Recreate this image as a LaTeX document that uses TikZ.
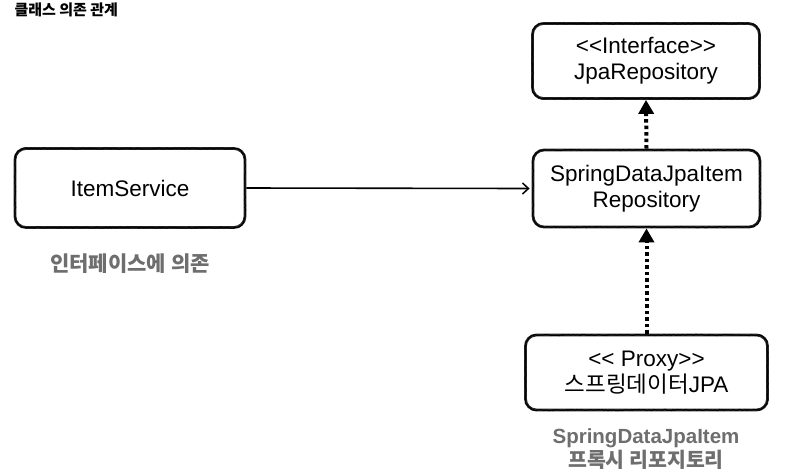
\documentclass[tikz,border=0pt]{standalone}
\usepackage{fontspec}
\setmainfont{Liberation Sans}
\newfontfamily\ko{Noto Sans CJK KR}
\usetikzlibrary{arrows.meta,decorations.pathmorphing}
\definecolor{labelgray}{HTML}{6E6E6E}
\tikzset{
  sketchbox/.style={draw=black!85, line width=2.8pt, rounded corners=11pt,
    postaction={draw=black, line width=1pt, sharp corners, decorate,
      decoration={random steps, segment length=1.5pt, amplitude=0.6pt}},
    align=center, inner sep=0pt,
    font=\fontsize{22.5}{26}\selectfont},
  solidarrow/.style={-{Straight Barb[length=6pt,width=11pt,line width=1.5pt]}, line width=1.6pt},
  dotarrow/.style={-{Triangle[length=14pt,width=15pt]}, line width=4pt, dash pattern=on 3.5pt off 3pt},
  graylabel/.style={text=labelgray, align=center, font=\bfseries\fontsize{20.5}{24}\selectfont},
}
\begin{document}
\begin{tikzpicture}[x=1pt,y=-1pt]
\useasboundingbox (0,0) rectangle (790,475);
\node[anchor=west, font=\ko\bfseries\fontsize{15}{17}\selectfont] (title) at (11,10) {클래스 의존 관계};

\node[sketchbox, minimum width=230pt, minimum height=79pt] (svc) at (130,188) {ItemService};
\node[sketchbox, minimum width=227pt, minimum height=75pt] (jpa) at (646,61) {{<}{<}Interface{>}{>}\\JpaRepository};
\node[sketchbox, minimum width=227pt, minimum height=77pt] (sdj) at (646.5,188.5) {SpringDataJpaItem\\Repository};
\node[sketchbox, minimum width=242pt, minimum height=75pt] (proxy) at (646.5,372.5) {{<}{<} Proxy{>}{>}\\{\ko 스프링데이터}JPA};

\node[graylabel, font=\ko\bfseries\fontsize{21}{24}\selectfont] (dep) at (130,264) {인터페이스에 의존};
\node[graylabel] (plabel) at (646,449) {SpringDataJpaItem\\{\ko\bfseries 프록시 리포지토리}};

\draw[solidarrow] (svc.east) -- ([xshift=-2pt]sdj.west);
\draw[dotarrow] (sdj.north) -- (jpa.south);
\draw[dotarrow] (proxy.north) -- (sdj.south);
\end{tikzpicture}
\end{document}
